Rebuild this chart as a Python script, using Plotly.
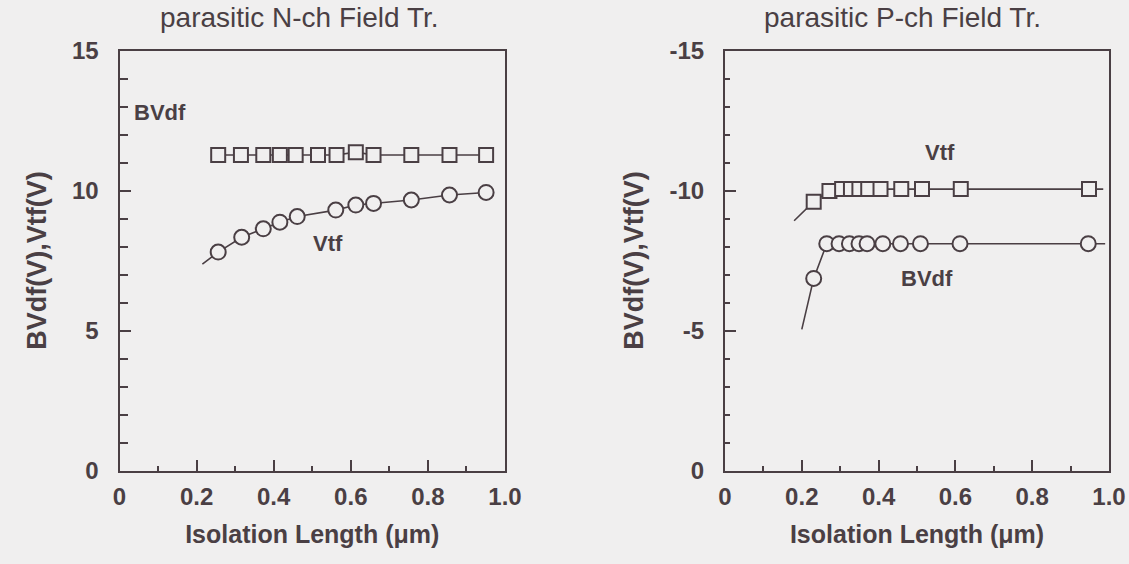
import plotly.graph_objects as go

# ---------------- data ----------------
# left panel: parasitic N-ch field transistor
n_bvdf_x = [0.256, 0.315, 0.373, 0.416, 0.457, 0.515, 0.563, 0.613, 0.659, 0.757, 0.856, 0.951]
n_bvdf_y = [11.27, 11.27, 11.27, 11.27, 11.27, 11.27, 11.27, 11.37, 11.27, 11.27, 11.27, 11.27]
n_vtf_x = [0.256, 0.317, 0.373, 0.416, 0.461, 0.561, 0.613, 0.659, 0.757, 0.856, 0.951]
n_vtf_y = [7.80, 8.33, 8.63, 8.87, 9.07, 9.30, 9.48, 9.54, 9.66, 9.84, 9.93]
n_vtf_fit_x = [0.215] + n_vtf_x
n_vtf_fit_y = [7.37] + n_vtf_y

# right panel: parasitic P-ch field transistor
p_vtf_x = [0.231, 0.272, 0.305, 0.328, 0.350, 0.373, 0.405, 0.459, 0.513, 0.614, 0.948]
p_vtf_y = [-9.60, -9.98, -10.05, -10.05, -10.05, -10.05, -10.05, -10.05, -10.05, -10.05, -10.05]
p_vtf_fit_x = [0.180] + p_vtf_x + [0.985]
p_vtf_fit_y = [-8.92] + p_vtf_y + [-10.05]
p_bvdf_x = [0.231, 0.265, 0.297, 0.324, 0.349, 0.370, 0.411, 0.457, 0.509, 0.612, 0.946]
p_bvdf_y = [-6.86, -8.10, -8.10, -8.10, -8.10, -8.10, -8.10, -8.10, -8.10, -8.10, -8.10]
p_bvdf_fit_x = [0.200] + p_bvdf_x + [0.990]
p_bvdf_fit_y = [-5.04] + p_bvdf_y + [-8.10]

x_tickvals = [0, 0.2, 0.4, 0.6, 0.8, 1.0]
x_ticktext = ["0", "0.2", "0.4", "0.6", "0.8", "1.0"]
n_y_tickvals = [0, 5, 10, 15]
n_y_ticktext = ["0", "5", "10", "15"]
p_y_tickvals = [0, -5, -10, -15]
p_y_ticktext = ["0", "-5", "-10", "-15"]

# ---------------- style ----------------
BG = "#f0efef"
INK = "#4a3f44"
FONT = "Liberation Sans, Arial, sans-serif"

fig = go.Figure()

def line(x, y, xa, ya):
    fig.add_trace(go.Scatter(x=x, y=y, mode="lines", xaxis=xa, yaxis=ya,
                             line=dict(color=INK, width=1.6), hoverinfo="skip",
                             showlegend=False))

def marks(x, y, sym, size, xa, ya):
    fig.add_trace(go.Scatter(x=x, y=y, mode="markers", xaxis=xa, yaxis=ya,
                             marker=dict(symbol=sym, size=size, color=BG,
                                         line=dict(color=INK, width=2)),
                             showlegend=False))

# left
line(n_bvdf_x, n_bvdf_y, "x", "y")
marks(n_bvdf_x, n_bvdf_y, "square", 14, "x", "y")
line(n_vtf_fit_x, n_vtf_fit_y, "x", "y")
marks(n_vtf_x, n_vtf_y, "circle", 15, "x", "y")
# right
line(p_vtf_fit_x, p_vtf_fit_y, "x2", "y2")
marks(p_vtf_x, p_vtf_y, "square", 14, "x2", "y2")
line(p_bvdf_fit_x, p_bvdf_fit_y, "x2", "y2")
marks(p_bvdf_x, p_bvdf_y, "circle", 15, "x2", "y2")

W, H = 1129, 564
left_dom = [119.5 / W, 505 / W]
right_dom = [725 / W, 1109 / W]
y_dom = [(H - 470.5) / H, (H - 50.5) / H]

tickfont = dict(family=FONT, size=24, color=INK, weight="bold")
xtitlefont = dict(family=FONT, size=25, color=INK, weight="bold")
ytitlefont = dict(family=FONT, size=27, color=INK, weight="bold")

def xaxis(dom, anchor):
    return dict(domain=dom, anchor=anchor, range=[0, 1.0], automargin=False,
                tickmode="array", tickvals=x_tickvals, ticktext=x_ticktext,
                ticks="inside", ticklen=11, tickwidth=2, tickcolor=INK,
                minor=dict(tickmode="array", tickvals=[0.1, 0.3, 0.5, 0.7, 0.9],
                           ticks="inside", ticklen=5, tickwidth=2, tickcolor=INK),
                showline=True, linecolor=INK, linewidth=2, mirror=True,
                showgrid=False, zeroline=False, tickfont=tickfont,
                ticklabelstandoff=4,
                title=dict(text="Isolation Length (μm)", font=xtitlefont, standoff=16))

def yaxis(anchor, rng, tv, tt, minor_vals, minor_len):
    return dict(domain=y_dom, anchor=anchor, range=rng, automargin=False,
                tickmode="array", tickvals=tv, ticktext=tt,
                ticks="inside", ticklen=11, tickwidth=2, tickcolor=INK,
                minor=dict(tickmode="array", tickvals=minor_vals,
                           ticks="inside", ticklen=minor_len, tickwidth=2, tickcolor=INK),
                showline=True, linecolor=INK, linewidth=2, mirror=True,
                showgrid=False, zeroline=False, tickfont=tickfont,
                ticklabelstandoff=14,
                title=dict(text="BVdf(V),Vtf(V)", font=ytitlefont, standoff=18))

n_minor = [v for v in range(1, 15) if v % 5 != 0]
p_minor = [-v for v in range(1, 15) if v % 5 != 0]

fig.update_layout(
    width=W, height=H,
    margin=dict(l=0, r=0, t=0, b=0, autoexpand=False),
    paper_bgcolor=BG, plot_bgcolor=BG,
    font=dict(family=FONT, color=INK),
    showlegend=False,
    xaxis=xaxis(left_dom, "y"),
    yaxis=yaxis("x", [0, 15], n_y_tickvals, n_y_ticktext, n_minor, 8),
    xaxis2=xaxis(right_dom, "y2"),
    yaxis2=yaxis("x2", [0, -15], p_y_tickvals, p_y_ticktext, p_minor, 5),
)

ann_font = dict(family=FONT, size=22, color=INK, weight="bold")
title_font = dict(family=FONT, size=28, color=INK)
fig.add_annotation(x=299 / W, y=1 - 18 / H, xref="paper", yref="paper",
                   xanchor="center", yanchor="middle",
                   text="parasitic N-ch Field Tr.", showarrow=False, font=title_font)
fig.add_annotation(x=902 / W, y=1 - 18 / H, xref="paper", yref="paper",
                   xanchor="center", yanchor="middle",
                   text="parasitic P-ch Field Tr.", showarrow=False, font=title_font)
fig.add_annotation(x=0.105, y=12.8, xref="x", yref="y", text="BVdf",
                   showarrow=False, font=ann_font)
fig.add_annotation(x=0.54, y=8.1, xref="x", yref="y", text="Vtf",
                   showarrow=False, font=ann_font)
fig.add_annotation(x=0.56, y=-11.35, xref="x2", yref="y2", text="Vtf",
                   showarrow=False, font=ann_font)
fig.add_annotation(x=0.527, y=-6.85, xref="x2", yref="y2", text="BVdf",
                   showarrow=False, font=ann_font)

fig.write_html("out.html")
